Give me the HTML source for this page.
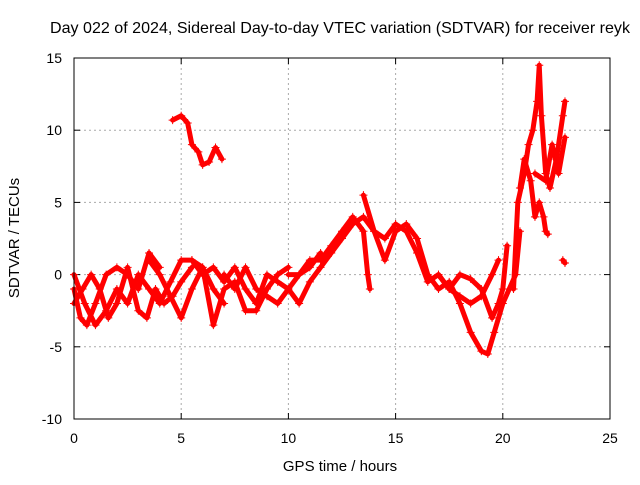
<!DOCTYPE html>
<html><head><meta charset="utf-8"><style>
body{margin:0;background:#fff;font-family:"Liberation Sans",sans-serif}
</style></head><body>
<svg id="chart" width="640" height="480" xmlns="http://www.w3.org/2000/svg" font-family="Liberation Sans, sans-serif" font-size="14">
<rect width="640" height="480" fill="#fff"/>
<text x="340" y="33" text-anchor="middle" font-size="16" textLength="580" lengthAdjust="spacingAndGlyphs">Day 022 of 2024, Sidereal Day-to-day VTEC variation (SDTVAR) for receiver reyk</text>
<text x="340" y="471" text-anchor="middle" font-size="15">GPS time / hours</text>
<text transform="translate(19,238) rotate(-90)" text-anchor="middle" font-size="15">SDTVAR / TECUs</text>
<g id="grid"></g><g id="axes"></g><g id="marks"></g>
<rect x="74" y="58" width="536" height="361" fill="none" stroke="#000" stroke-width="1"/>
</svg>
<script>
const xTicks=[0,5,10,15,20,25];
const yTicks=[-10,-5,0,5,10,15];
const trackA=[[0,-1],[0.3,-3],[0.6,-3.5],[1,-2],[1.5,0],[2,0.5],[2.5,0],[3,-1],[3.5,1.5],[4,0.5]];
const trackB=[[0,-2],[0.4,-1],[0.8,0],[1.2,-1],[1.6,-3],[2,-2],[2.5,0.5],[3,-2.5],[3.4,-3],[3.8,-1],[4.2,-2],[4.6,-1.5],[5,-0.5],[5.5,0.5]];
const trackC=[[3.5,1],[4,0],[4.5,-1.5],[5,-3],[5.5,-1],[6,0.5],[6.5,-1],[7,-2]];
const trackD=[[4.6,10.7],[5,11],[5.3,10.5],[5.5,9],[5.8,8.5],[6,7.6],[6.3,7.8],[6.6,8.8],[6.9,8]];
const trackE=[[5.5,1],[6,0.5],[6.5,-3.5],[7,-1],[7.5,-0.5],[8,-2.5],[8.5,-2.5],[9,-1],[9.5,0],[10,0.5]];
const trackF=[[7,0],[7.5,-1],[8,0.5],[8.5,-1],[9,-1.5],[9.5,-2],[10,-1],[10.5,-2],[11,-0.5],[11.5,0.5],[12,1.5],[12.5,2.5],[13,3.5],[13.5,4],[14,3],[14.5,1],[15,3],[15.5,3.5],[16,2.5],[16.5,0],[17,-1],[17.5,-0.5],[18,-2],[18.5,-4],[19,-5.3],[19.3,-5.5],[19.6,-4],[20,-2],[20.3,-1],[20.6,0],[20.8,3]];
const trackG=[[10,0],[10.5,0],[11,1],[11.5,1],[12,2],[12.5,3],[13,4],[13.5,3],[13.7,0],[13.8,-1]];
const trackH=[[13.5,5.5],[14,3],[14.5,2.5],[15,3.5],[15.5,3],[16,1.5],[16.5,-0.5],[17,0],[17.5,-1],[18,-1.5],[18.5,-2],[19,-1.5],[19.5,0],[19.8,1]];
const trackI=[[17,0],[17.5,-1],[18,0],[18.5,-0.3],[19,-1],[19.5,-3],[19.8,-2],[20,-1],[20.2,2]];
const trackJ=[[20.5,-1],[20.7,5],[21,7],[21.2,9],[21.4,10],[21.6,12],[21.7,14.5],[21.8,11],[22,7],[22.2,6],[22.5,8],[22.8,11],[22.9,12]];
const trackK=[[20.8,6],[21,8],[21.3,6.5],[21.5,4],[21.7,5],[21.9,4],[22,3],[22.1,2.8]];
const trackL=[[21.5,7],[22,6.5],[22.3,9],[22.6,7],[22.9,9.5]];
const trackM=[[22.8,1],[22.9,0.8]];
const trackN=[[0,0],[0.5,-2],[1,-3.5],[1.5,-2.5],[2,-1],[2.5,-2],[3,0],[3.5,-1],[4,-2],[4.5,-0.5],[5,1],[5.5,1],[6,0],[6.5,0.5],[7,-0.5],[7.5,0.5],[8,-1],[8.5,-2],[9,0],[9.5,-0.5],[10,-1],[10.5,0],[11,0.5],[11.5,1.5]];
const tracks=[trackA,trackB,trackC,trackD,trackE,trackF,trackG,trackH,trackI,trackJ,trackK,trackL,trackM,trackN];
const NS="http://www.w3.org/2000/svg";
const X0=74,X1=610,Y0=419,Y1=58;
function sx(v){return X0+(v-0)/25*(X1-X0);}
function sy(v){return Y0-(v+10)/25*(Y0-Y1);}
function mk(t,a,p){const e=document.createElementNS(NS,t);for(const k in a)e.setAttribute(k,a[k]);p.appendChild(e);return e;}
const grid=document.getElementById('grid'),axes=document.getElementById('axes'),marks=document.getElementById('marks');
xTicks.forEach(v=>{const x=sx(v);
 if(v>0&&v<25){const l=mk('line',{x1:x,x2:x,y1:Y1,y2:Y0,stroke:'#aaa','stroke-dasharray':'2,3'},grid);
 
 }
 mk('line',{x1:x,x2:x,y1:Y0,y2:Y0-6,stroke:'#000'},axes);
 mk('line',{x1:x,x2:x,y1:Y1,y2:Y1+6,stroke:'#000'},axes);
 const t=mk('text',{x:x,y:Y0+24,'text-anchor':'middle'},axes);t.textContent=v;
 
 });
yTicks.forEach(v=>{const y=sy(v);
 if(v>-10&&v<15){const l=mk('line',{x1:X0,x2:X1,y1:y,y2:y,stroke:'#aaa','stroke-dasharray':'2,3'},grid);
 
 }
 mk('line',{x1:X0,x2:X0+6,y1:y,y2:y,stroke:'#000'},axes);
 mk('line',{x1:X1,x2:X1-6,y1:y,y2:y,stroke:'#000'},axes);
 const t=mk('text',{x:X0-12,y:y+5,'text-anchor':'end'},axes);t.textContent=v;
 
 });
tracks.forEach(tr=>{
 const pl=mk('polyline',{points:tr.map(p=>sx(p[0])+','+sy(p[1])).join(' '),fill:'none',stroke:'#f00','stroke-width':5,'stroke-linejoin':'round','stroke-linecap':'round'},marks);
 
 
 tr.forEach(p=>{const x=sx(p[0]),y=sy(p[1]);
  const m=mk('path',{d:`M${x-4},${y}H${x+4}M${x},${y-4}V${y+4}`,stroke:'#f00','stroke-width':1},marks);
  
  });
});
</script>
</body></html>
